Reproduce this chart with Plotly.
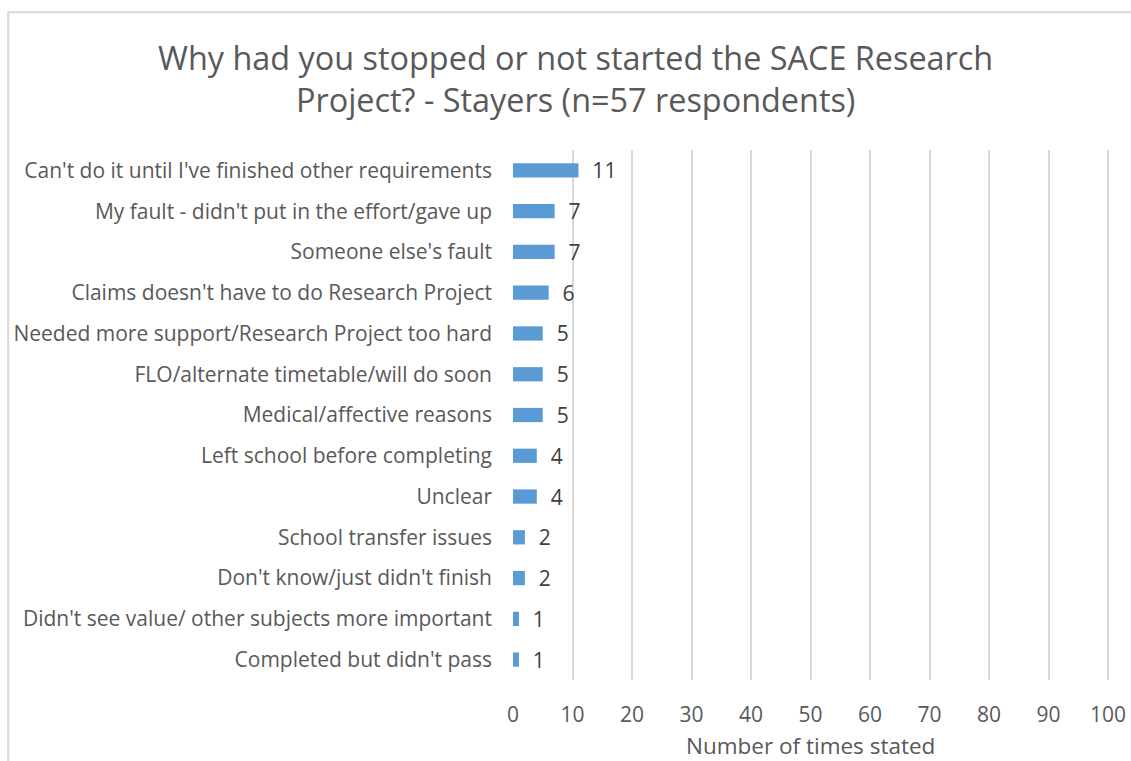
import plotly.graph_objects as go

categories = [
    "Can't do it until I've finished other requirements",
    "My fault - didn't put in the effort/gave up",
    "Someone else's fault",
    "Claims doesn't have to do Research Project",
    "Needed more support/Research Project too hard",
    "FLO/alternate timetable/will do soon",
    "Medical/affective reasons",
    "Left school before completing",
    "Unclear",
    "School transfer issues",
    "Don't know/just didn't finish",
    "Didn't see value/ other subjects more important",
    "Completed but didn't pass",
]
values = [11, 7, 7, 6, 5, 5, 5, 4, 4, 2, 2, 1, 1]
x_ticks = [0, 10, 20, 30, 40, 50, 60, 70, 80, 90, 100]

FONT = "Open Sans"
GREY = "#595959"

fig = go.Figure(go.Bar(
    y=categories,
    x=values,
    orientation="h",
    marker=dict(color="#5B9BD5", line=dict(width=0)),
    texttemplate="\u00a0\u00a0%{x}",
    textposition="outside",
    constraintext="none",
    textfont=dict(family=FONT, size=21, color="#404040"),
    cliponaxis=False,
))

fig.update_layout(
    width=1131, height=761,
    margin=dict(l=513, r=17, t=150, b=81),
    paper_bgcolor="white", plot_bgcolor="white",
    bargap=0.65,
    showlegend=False,
    title=dict(
        text="Why had you stopped or not started the SACE Research<br>Project? - Stayers (n=57 respondents)",
        x=0.509, xanchor="center", y=0.9078, yanchor="middle",
        font=dict(family=FONT, size=32.4, color=GREY),
    ),
    font=dict(family=FONT, color=GREY),
)
fig.update_xaxes(
    range=[0, 101], tickvals=x_ticks, showgrid=True, gridcolor="#D9D9D9", gridwidth=2,
    zeroline=False, showline=False, ticks="", automargin=False,
    tickfont=dict(family=FONT, size=21, color=GREY),
    ticklabelstandoff=20,
)
fig.update_yaxes(
    autorange="reversed", showgrid=False, zeroline=False, showline=False, ticks="",
    automargin=False,
    tickfont=dict(family=FONT, size=21, color=GREY), ticklabelstandoff=20,
)
fig.add_annotation(text="Number of times stated", xref="paper", yref="paper",
                   x=0.495, y=-0.124, xanchor="center", yanchor="middle", showarrow=False,
                   font=dict(family=FONT, size=22.5, color=GREY))
fig.add_shape(type="rect", xref="paper", yref="paper",
              x0=-0.840, y0=-0.3, x1=1.2, y1=1.26,
              line=dict(color="#D9D9D9", width=2), fillcolor="rgba(0,0,0,0)", layer="below")

fig.write_html("out.html", config={"displayModeBar": False},
               post_script="document.body.style.margin='0';document.body.style.overflow='hidden';")
